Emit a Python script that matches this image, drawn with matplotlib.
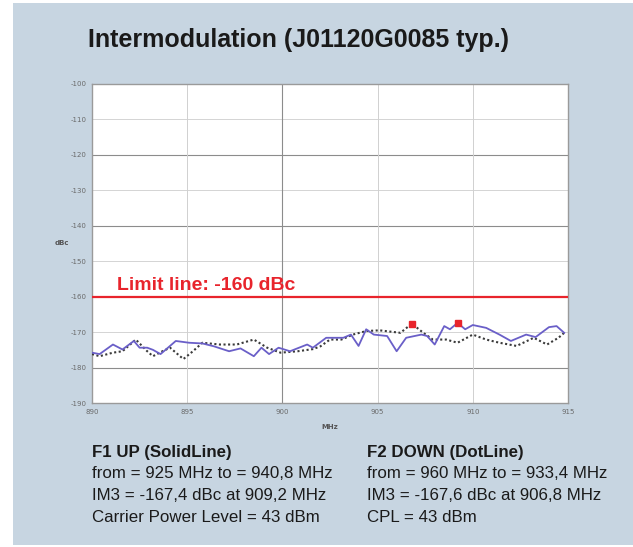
import matplotlib
matplotlib.use("Agg")
import matplotlib.pyplot as plt
from matplotlib.patches import Rectangle

plt.rcParams["axes.unicode_minus"] = False

# F1 UP (solid line)
f1_mhz = [890.0, 890.4, 891.1, 891.6, 892.2, 892.5, 892.9, 893.2, 893.6, 894.4,
          895.1, 895.8, 896.4, 897.2, 897.8, 898.5, 898.9, 899.3, 899.8, 900.4,
          901.3, 901.6, 902.3, 902.7, 903.2, 903.6, 904.0, 904.4, 904.8, 905.5,
          906.0, 906.5, 907.3, 907.6, 908.0, 908.5, 908.8, 909.2, 909.6, 910.0,
          910.7, 911.4, 912.0, 912.8, 913.3, 914.0, 914.4, 914.8]
f1_dbc = [-175.8, -176.2, -173.5, -174.9, -172.5, -174.4, -174.4, -175.0, -176.2, -172.5,
          -173.0, -173.2, -174.0, -175.4, -174.6, -176.8, -174.4, -176.2, -174.4, -175.4,
          -173.5, -174.4, -171.6, -171.6, -171.6, -170.7, -173.9, -169.2, -170.7, -171.1,
          -175.4, -171.6, -170.7, -171.1, -173.5, -168.3, -169.2, -167.4, -169.2, -168.0,
          -168.8, -170.7, -172.5, -170.7, -171.4, -168.6, -168.3, -170.2]

# F2 DOWN (dotted line)
f2_mhz = [890.0, 890.4, 891.1, 891.6, 892.3, 892.9, 893.2, 893.7, 894.1, 894.8,
          895.3, 895.8, 896.7, 897.6, 898.5, 899.2, 899.9, 900.8, 901.6, 902.0,
          902.5, 903.1, 903.7, 904.4, 905.1, 906.2, 906.8, 907.4, 907.9, 908.6,
          909.2, 910.0, 910.7, 911.4, 912.3, 913.2, 913.9, 914.5, 914.8]
f2_dbc = [-176.2, -176.8, -175.8, -175.4, -172.1, -175.4, -176.8, -175.4, -174.4, -177.6,
          -175.4, -173.0, -173.5, -173.5, -172.1, -174.4, -175.8, -175.4, -174.8, -174.0,
          -172.1, -172.1, -170.7, -169.7, -169.5, -170.2, -167.6, -170.2, -172.1, -172.1,
          -173.0, -170.7, -172.1, -173.0, -173.9, -171.6, -173.5, -171.6, -170.2]

peak_mhz = [906.8, 909.2]
peak_dbc = [-167.6, -167.4]

limit_dbc = -160

x_ticks = [890, 895, 900, 905, 910, 915]
y_ticks = list(range(-190, -99, 10))

f1_lines = ["F1 UP (SolidLine)",
            "from = 925 MHz to = 940,8 MHz",
            "IM3 = -167,4 dBc at 909,2 MHz",
            "Carrier Power Level = 43 dBm"]
f2_lines = ["F2 DOWN (DotLine)",
            "from = 960 MHz to = 933,4 MHz",
            "IM3 = -167,6 dBc at 906,8 MHz",
            "CPL = 43 dBm"]

FONT = ["Liberation Sans", "DejaVu Sans"]
BG = "#c7d5e1"

fig = plt.figure(figsize=(6.33, 5.47), dpi=100)
fig.patch.set_facecolor("white")
fig.patches.append(Rectangle((13 / 633, 2 / 547), 1 - 13 / 633, 1 - 5 / 547,
                             transform=fig.transFigure, facecolor=BG,
                             edgecolor="none", zorder=-5))

ax = fig.add_axes([92 / 633, 1 - 403 / 547, 476 / 633, 319 / 547])
ax.set_zorder(2)
ax.set_facecolor("white")

# grid: alternating lighter / darker lines like the analyser print
for v in y_ticks:
    dark = v in (-120, -140, -180)
    ax.axhline(v, color="#8c8c8c" if dark else "#d4d4d4",
               lw=0.8 if dark else 0.7, zorder=1)
for f in x_ticks:
    dark = f == 900
    ax.axvline(f, color="#8c8c8c" if dark else "#d0d0d0",
               lw=0.8 if dark else 0.7, zorder=1)

ax.axhline(limit_dbc, color="#e8242c", lw=1.6, zorder=3)
ax.text(891.3, -156.8, "Limit line: -160 dBc", color="#e8242c",
        fontsize=14, fontweight="bold", family=FONT, va="center", zorder=4)

ax.plot(f2_mhz, f2_dbc, color="#3a3a3a", lw=1.5, ls=(0, (1, 1.2)), zorder=4)
ax.plot(f1_mhz, f1_dbc, color="#6a5fc8", lw=1.3, zorder=5)
ax.plot(peak_mhz, peak_dbc, ls="none", marker="s", ms=4.5,
        color="#e8242c", zorder=6)

ax.set_xlim(890, 915)
ax.set_ylim(-190, -100)
ax.set_xticks(x_ticks)
ax.set_yticks(y_ticks)
ax.tick_params(length=0, labelsize=5, colors="#6a6a6a", pad=4)
for s in ax.spines.values():
    s.set_color("#9a9a9a")
    s.set_linewidth(1.0)

fig.text(62 / 633, 1 - 243 / 547, "dBc", fontsize=5, fontweight="bold",
         color="#555555", ha="center", va="center")
fig.text(330 / 633, 1 - 427 / 547, "MHz", fontsize=5, fontweight="bold",
         color="#555555", ha="center", va="center")

fig.text(88 / 633, 1 - 40 / 547, "Intermodulation (J01120G0085 typ.)",
         fontsize=18, fontweight="bold", family=FONT, color="#1a1a1a",
         va="center")

for i, (a, b) in enumerate(zip(f1_lines, f2_lines)):
    y = 1 - (452 + 22 * i) / 547
    w = "bold" if i == 0 else "normal"
    fig.text(92 / 633, y, a, fontsize=12.2, fontweight=w, family=FONT,
             color="#1a1a1a", va="center")
    fig.text(367 / 633, y, b, fontsize=12.2, fontweight=w, family=FONT,
             color="#1a1a1a", va="center")

fig.savefig("out.png", dpi=100)
